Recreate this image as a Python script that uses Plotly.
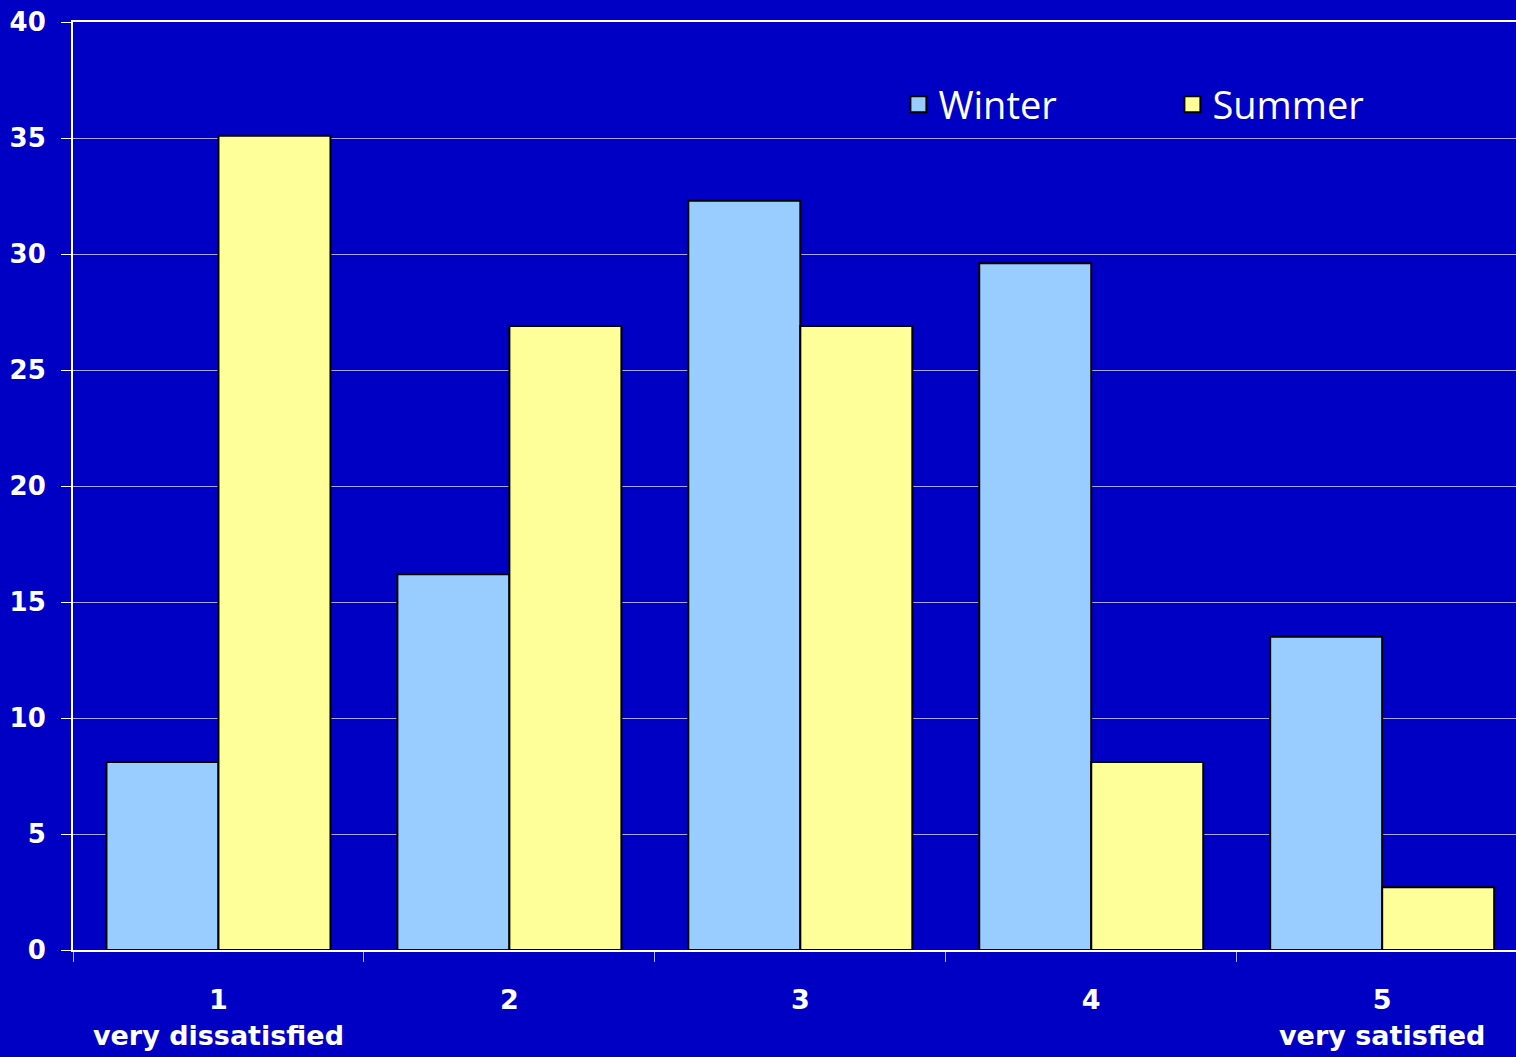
import plotly.graph_objects as go

categories = ["1<br>very dissatisfied", "2", "3", "4", "5<br>very satisfied"]
winter = [8.1, 16.2, 32.3, 29.6, 13.5]
summer = [35.1, 26.9, 26.9, 8.1, 2.7]
y_ticks = [0, 5, 10, 15, 20, 25, 30, 35, 40]

BG = "#0000C4"
WINTER_C = "#99CCFF"
SUMMER_C = "#FFFF99"
x_tick_font = dict(family="'DejaVu Sans', sans-serif", size=27, color="white", weight="bold")
y_tick_font = dict(family="'DejaVu Sans', sans-serif", size=26, color="white", weight="bold")

fig = go.Figure()
fig.add_trace(go.Bar(name="Winter", x=categories, y=winter, showlegend=False, legendgroup="w",
                     marker=dict(color=WINTER_C, line=dict(color="black", width=2))))
fig.add_trace(go.Bar(name="Summer", x=categories, y=summer, showlegend=False, legendgroup="s",
                     marker=dict(color=SUMMER_C, line=dict(color="black", width=2))))
# legend entries with larger square swatches
fig.add_trace(go.Scatter(name="Winter", x=[None], y=[None], mode="markers", legendgroup="w",
                         marker=dict(symbol="square", size=20, color=WINTER_C,
                                     line=dict(color="black", width=2))))
fig.add_trace(go.Scatter(name="Summer", x=[None], y=[None], mode="markers", legendgroup="s",
                         marker=dict(symbol="square", size=20, color=SUMMER_C,
                                     line=dict(color="black", width=2))))

fig.update_layout(
    width=1516, height=1057,
    paper_bgcolor=BG, plot_bgcolor=BG,
    margin=dict(l=73, r=0, t=22, b=107),
    barmode="group", bargap=0.23, bargroupgap=0,
    showlegend=True,
    legend=dict(orientation="h", x=0.572, y=0.945, xanchor="left", yanchor="top",
                font=dict(family="'Open Sans', Lato, sans-serif", size=38, color="white"),
                bgcolor="rgba(0,0,0,0)", entrywidth=229, entrywidthmode="pixels",
                itemsizing="trace"),
    xaxis=dict(showline=True, linecolor="white", linewidth=2, mirror=True,
               range=[-0.5, 4.46],
               ticks="outside", tickson="boundaries", ticklen=10, tickcolor="#B0B0FF",
               tickfont=x_tick_font, showgrid=False, ticklabelstandoff=25),
    yaxis=dict(range=[0, 40], tickvals=y_ticks, showline=True, linecolor="white", linewidth=2,
               ticks="outside", ticklen=10, tickcolor="white",
               gridcolor="#A8A8F4", gridwidth=1, tickfont=y_tick_font,
               ticklabelstandoff=10, zeroline=False),
)

fig.write_html("out.html")
